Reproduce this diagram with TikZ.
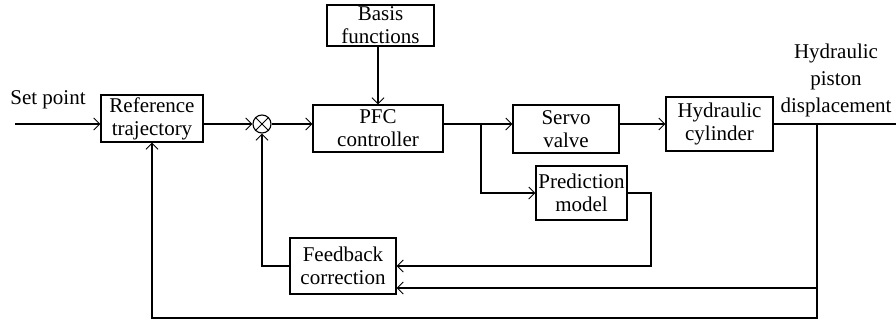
\documentclass[tikz,border=0pt]{standalone}
\usepackage{fontspec}
\setmainfont{Liberation Serif}
\usetikzlibrary{arrows.meta}
\newcommand{\fs}{\fontsize{21}{23}\selectfont}
\tikzset{
  box/.style={draw, line width=1.1pt, align=center, inner sep=0pt, font=\fs},
  conn/.style={line width=1.1pt},
  arr/.style={conn, -{Straight Barb[length=6pt,width=12pt,line width=1pt]}},
  lbl/.style={align=center, inner sep=0pt, font=\fs},
}
\begin{document}
\begin{tikzpicture}[x=1pt,y=-1pt]
\useasboundingbox (0,0) rectangle (896,321);
% nodes
\node[box, minimum width=102pt, minimum height=47pt] (ref) at (152,118.5) {Reference\\trajectory};
\node[draw, conn, circle, minimum size=18pt, inner sep=0pt] (sum) at (262,124) {};
\draw[line width=1pt] (sum.north west) -- (sum.south east) (sum.north east) -- (sum.south west);
\node[box, minimum width=130pt, minimum height=47pt] (pfc) at (378,128.5) {PFC\\controller};
\node[box, minimum width=107pt, minimum height=41pt] (basis) at (380.5,25.5) {Basis\\functions};
\node[box, minimum width=106pt, minimum height=48pt] (servo) at (566,129) {Servo\\valve};
\node[box, minimum width=107pt, minimum height=54pt] (cyl) at (719.5,124) {Hydraulic\\cylinder};
\node[box, minimum width=91pt, minimum height=54pt] (pred) at (581.5,193) {Prediction\\model};
\node[box, minimum width=106pt, minimum height=56pt] (fb) at (343,266) {Feedback\\correction};
\node[lbl] (sp) at (48,100) {Set point};
\node[lbl, font=\fontsize{21}{27}\selectfont] (out) at (836,80) {Hydraulic\\piston\\displacement};
% helper coordinates
\coordinate (start) at (15,124);
\coordinate (br) at (481,124);
\coordinate (tap) at (817,124);
\coordinate (endp) at (896,124);
\coordinate (pr) at (651,193);
\coordinate (fbl) at (262,266);
% connectors
\draw[arr] (start) -- (start -| ref.west);
\draw[arr] (ref.east |- sum) -- (sum.west);
\draw[arr] (sum.east) -- (sum -| pfc.west);
\draw[arr] (pfc.north |- basis.south) -- (pfc.north);
\draw[arr] (pfc.east |- br) -- (br -| servo.west);
\draw[arr] (br) |- (pred.west);
\draw[arr] (servo.east |- br) -- (br -| cyl.west);
\draw[conn] (cyl.east |- endp) -- (endp);
\draw[arr] (pred.east) -- (pr) |- (fb.east |- 0,266);
\draw[arr] (tap) |- (fb.east |- 0,288);
\draw[arr] (tap) -- (817,318) -| (ref.south);
\draw[arr] (fb.west) -- (fbl) -- (sum.south);
\end{tikzpicture}
\end{document}
